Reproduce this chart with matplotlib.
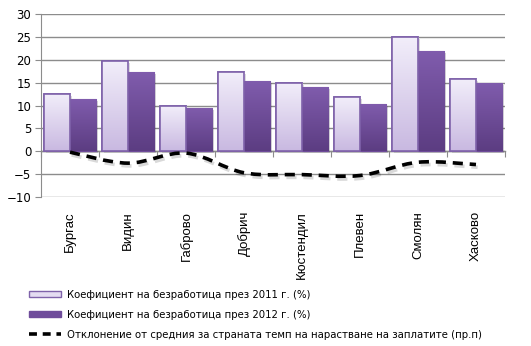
import numpy as np
import matplotlib
matplotlib.use("Agg")
import matplotlib.pyplot as plt
from matplotlib.path import Path
from matplotlib.patches import PathPatch, Patch
from matplotlib.lines import Line2D
from matplotlib.colors import LinearSegmentedColormap
import matplotlib.patheffects as pe

# data
regions = ["Бургас", "Видин", "Габрово", "Добрич", "Кюстендил", "Плевен", "Смолян", "Хасково"]
rate_2011 = [12.5, 19.7, 9.9, 17.3, 14.9, 11.8, 25.0, 15.8]
rate_2012 = [11.5, 17.4, 9.5, 15.4, 14.0, 10.3, 21.9, 14.9]
wage_dev = [-0.2, -2.6, -0.4, -4.7, -5.1, -5.3, -2.4, -2.9]

label_2011 = "Коефициент на безработица през 2011 г. (%)"
label_2012 = "Коефициент на безработица през 2012 г. (%)"
label_dev = "Отклонение от средния за страната темп на нарастване на заплатите (пр.п)"

plt.rcParams["font.family"] = ["DejaVu Sans"]

fig = plt.figure(figsize=(5.31, 3.46), dpi=100)
ax = fig.add_axes([0.0772, 0.4306, 0.8738, 0.5289])

x = np.arange(len(regions))
w = 0.45

light_cmap = LinearSegmentedColormap.from_list("l", ["#f2eefa", "#c9b9e1"])
dark_cmap = LinearSegmentedColormap.from_list("d", ["#805cad", "#5c3d82"])


def gradient_bars(bars, cmap):
    grad = np.linspace(0, 1, 64).reshape(-1, 1)
    for b in bars:
        x0, y0 = b.get_x(), b.get_y()
        im = ax.imshow(grad, cmap=cmap, aspect="auto", origin="upper",
                       extent=[x0, x0 + b.get_width(), y0, y0 + b.get_height()],
                       zorder=b.get_zorder() + 0.1)
        im.set_clip_path(b)


shadow = [pe.SimplePatchShadow(offset=(1.5, -1.5), alpha=0.18), pe.Normal()]
b1 = ax.bar(x - w / 2, rate_2011, w, color="#e4dcf1", edgecolor="#7f62aa",
            linewidth=1.2, zorder=3, path_effects=shadow)
b2 = ax.bar(x + w / 2, rate_2012, w, color="#6f4c9b", edgecolor="#6f4c9b",
            linewidth=0.8, zorder=3, path_effects=shadow)
gradient_bars(b1, light_cmap)
gradient_bars(b2, dark_cmap)
# redraw edges of light bars above gradient
for b in b1:
    ax.add_patch(plt.Rectangle((b.get_x(), b.get_y()), b.get_width(), b.get_height(),
                               fill=False, edgecolor="#7f62aa", linewidth=1.2, zorder=3.5))

# smoothed dashed line (bezier through the data points)
pts = np.column_stack([x, wage_dev]).astype(float)
ext = np.vstack([pts[0], pts, pts[-1]])
verts = [tuple(pts[0])]
codes = [Path.MOVETO]
for i in range(len(pts) - 1):
    p0, p1, p2, p3 = ext[i], ext[i + 1], ext[i + 2], ext[i + 3]
    c1 = p1 + (p2 - p0) / 6
    c2 = p2 - (p3 - p1) / 6
    verts += [tuple(c1), tuple(c2), tuple(p2)]
    codes += [Path.CURVE4] * 3
dash = (0, (2.8, 1.9))
curve = PathPatch(Path(verts, codes), fill=False, edgecolor="black", linewidth=2.6,
                  linestyle=dash, zorder=4, capstyle="butt",
                  path_effects=[pe.SimpleLineShadow(offset=(1.2, -2), alpha=0.15),
                                pe.Normal()])
ax.add_patch(curve)

ax.set_xlim(-0.5, len(regions) - 0.5)
ax.set_ylim(-10, 30)
ax.set_yticks(range(-10, 31, 5))
ax.yaxis.grid(True, color="#8c8c8c", linewidth=1)
ax.set_axisbelow(True)
for s in ["top", "right", "bottom"]:
    ax.spines[s].set_visible(False)
ax.spines["left"].set_color("#8c8c8c")
ax.tick_params(axis="y", length=4, color="#8c8c8c", labelsize=8.5, pad=3)

ax.set_xticks(x)
ax.set_xticklabels(regions, rotation=90, va="top", ha="center",
                   fontsize=9.5, family="Liberation Sans")
ax.tick_params(axis="x", length=0, pad=10)

# category axis sits at zero
zero_frac = (0 - (-10)) / 40
sec = ax.secondary_xaxis(zero_frac)
sec.set_xticks(np.arange(-0.5, len(regions), 1.0))
sec.set_xticklabels([])
sec.tick_params(axis="x", direction="out", length=4, color="#8c8c8c")
sec.spines["bottom"].set_color("#8c8c8c")
sec.spines["bottom"].set_linewidth(1)

handles = [
    Patch(facecolor="#e4dcf1", edgecolor="#7f62aa", linewidth=1),
    Patch(facecolor="#6f4c9b", edgecolor="#6f4c9b", linewidth=1),
    Line2D([0], [0], color="black", linewidth=2.6, linestyle=(0, (2.2, 1.6))),
]
fig.legend(handles, [label_2011, label_2012, label_dev], loc="upper left",
           bbox_to_anchor=(0.047, 0.175), frameon=False, fontsize=7.3,
           handlelength=3.2, handleheight=0.6, handletextpad=0.5,
           labelspacing=1.0, borderaxespad=0)

fig.savefig("out.png", dpi=100)
